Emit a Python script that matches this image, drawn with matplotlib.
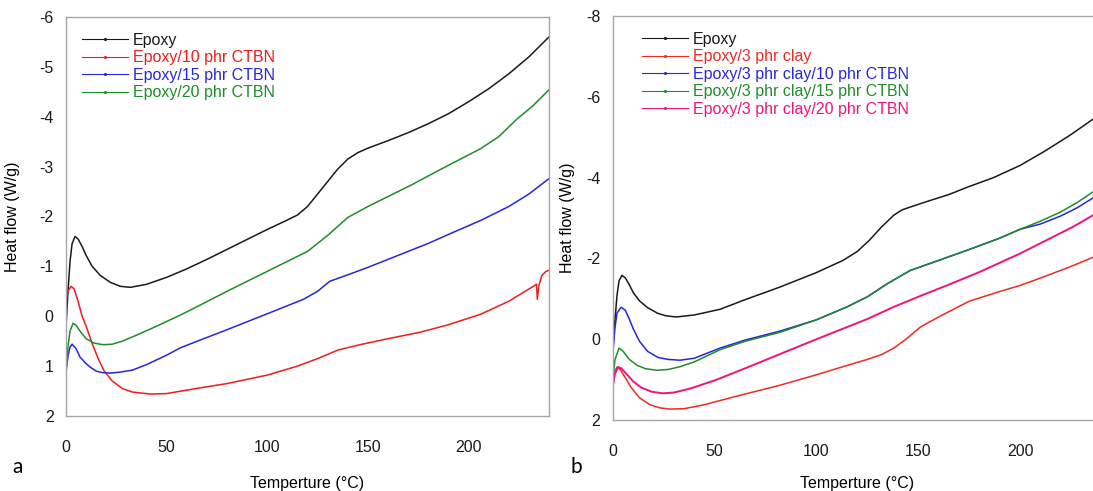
import matplotlib
matplotlib.use("Agg")
import matplotlib.pyplot as plt
from matplotlib.lines import Line2D

plt.rcParams['font.family'] = ['Liberation Sans', 'DejaVu Sans']
plt.rcParams['axes.unicode_minus'] = False

# ---- panel a: epoxy / CTBN ----
xa_epoxy = [0, 1, 2, 3, 4.5, 6, 8, 10, 13, 17, 22, 27, 32, 40, 50, 60, 70, 80, 90, 100,
            110, 115, 120, 125, 130, 135, 140, 145, 150, 160, 170, 180, 190, 200, 210,
            220, 230, 240]
ya_epoxy = [0.2, -0.5, -1.1, -1.45, -1.6, -1.55, -1.4, -1.22, -1.0, -0.82, -0.68, -0.6,
            -0.58, -0.64, -0.78, -0.95, -1.14, -1.34, -1.54, -1.74, -1.93, -2.03, -2.2,
            -2.45, -2.7, -2.95, -3.15, -3.28, -3.37, -3.52, -3.68, -3.86, -4.06, -4.3,
            -4.56, -4.86, -5.2, -5.6]

xa_c10 = [0, 1, 2.5, 4, 6, 8, 10, 13, 16, 19, 23, 28, 33, 42, 50, 66, 80, 100, 115, 125,
          135, 145, 160, 176, 190, 206, 220, 233.8, 234.2, 235, 236.5, 238.5, 240]
ya_c10 = [-0.34, -0.5, -0.6, -0.55, -0.3, 0.0, 0.2, 0.55, 0.85, 1.1, 1.3, 1.45, 1.52,
          1.56, 1.55, 1.44, 1.35, 1.18, 1.0, 0.85, 0.68, 0.58, 0.45, 0.32, 0.17, -0.04,
          -0.3, -0.64, -0.34, -0.62, -0.82, -0.9, -0.92]

xa_c15 = [0, 1, 2, 3, 5, 7, 10, 12, 15, 18, 22, 27, 33, 40, 50, 57, 66.5, 80, 100, 118,
          125, 131, 140, 150, 160, 170, 180, 190, 206, 220, 230, 240]
ya_c15 = [1.1, 0.8, 0.62, 0.56, 0.65, 0.82, 0.95, 1.02, 1.1, 1.13, 1.14, 1.12, 1.08, 0.97,
          0.78, 0.63, 0.48, 0.27, -0.05, -0.34, -0.5, -0.7, -0.83, -0.98, -1.14, -1.3,
          -1.46, -1.64, -1.92, -2.2, -2.45, -2.76]

xa_c20 = [0, 1, 2, 3.5, 5, 7, 10, 14, 18.5, 23, 28, 35, 45, 56.6, 66.5, 80, 100, 120, 130,
          140, 150, 160, 172, 185, 195, 206, 215, 224, 232, 240]
ya_c20 = [1.16, 0.6, 0.3, 0.14, 0.18, 0.3, 0.45, 0.54, 0.57, 0.56, 0.5, 0.38, 0.2, -0.02,
          -0.22, -0.5, -0.9, -1.3, -1.62, -1.98, -2.2, -2.4, -2.64, -2.92, -3.13, -3.36,
          -3.6, -3.95, -4.22, -4.54]

# ---- panel b: epoxy / clay / CTBN ----
xb_epoxy = [0, 1, 2, 3, 4.4, 6, 8, 10, 13, 17, 22, 26, 31, 40, 52.6, 65, 82, 100, 113, 120,
            126, 132, 138, 142, 146, 155, 165, 174, 187, 200, 212, 224, 236]
yb_epoxy = [0.2, -0.5, -1.1, -1.45, -1.58, -1.52, -1.35, -1.15, -0.95, -0.78, -0.64, -0.58,
            -0.55, -0.6, -0.74, -0.98, -1.29, -1.65, -1.95, -2.17, -2.45, -2.78, -3.07,
            -3.2, -3.27, -3.42, -3.58, -3.76, -4.0, -4.3, -4.65, -5.03, -5.45]

xb_clay = [0, 1, 2, 3.5, 6, 9, 13, 18, 23, 28, 35, 45, 60, 82, 100, 115, 125, 132, 138, 144,
           151, 160, 175, 190, 200, 212, 224, 236]
yb_clay = [1.1, 0.78, 0.69, 0.75, 0.95, 1.2, 1.45, 1.62, 1.7, 1.73, 1.72, 1.62, 1.42, 1.14,
           0.88, 0.65, 0.5, 0.38, 0.22, 0.0, -0.3, -0.55, -0.94, -1.18, -1.33, -1.55,
           -1.78, -2.03]

xb_c10 = [0, 1, 2, 4, 6, 8, 10, 13, 17, 22, 27, 33, 40, 52.6, 65, 82, 100, 115, 125, 135,
          146, 160, 175, 190, 200, 210, 220, 228, 236]
yb_c10 = [0.3, -0.3, -0.65, -0.79, -0.72, -0.5, -0.25, 0.05, 0.3, 0.45, 0.5, 0.52, 0.47,
          0.22, 0.02, -0.2, -0.48, -0.8, -1.05, -1.38, -1.7, -1.95, -2.22, -2.5, -2.72,
          -2.85, -3.05, -3.25, -3.5]

xb_c15 = [0, 1, 3, 5, 8, 12, 16, 21.6, 27, 33, 40, 52.6, 65, 82, 100, 115, 125, 135, 146,
          160, 175, 190, 200, 210, 220, 228, 236]
yb_c15 = [0.94, 0.5, 0.22, 0.3, 0.5, 0.65, 0.73, 0.77, 0.75, 0.68, 0.56, 0.26, 0.05, -0.17,
          -0.48, -0.8, -1.05, -1.38, -1.7, -1.95, -2.22, -2.5, -2.72, -2.92, -3.15, -3.38,
          -3.65]

xb_c20 = [0, 1, 2.5, 4, 7, 10, 14, 19, 24.5, 30, 38, 50, 65, 82, 100, 115, 125, 138, 150,
          165, 180, 200, 215, 226, 236]
yb_c20 = [1.14, 0.85, 0.69, 0.72, 0.88, 1.05, 1.2, 1.3, 1.34, 1.32, 1.22, 1.02, 0.72, 0.37,
          0.0, -0.3, -0.5, -0.8, -1.05, -1.35, -1.66, -2.12, -2.5, -2.78, -3.07]

labels_a = ['Epoxy', 'Epoxy/10 phr CTBN', 'Epoxy/15 phr CTBN', 'Epoxy/20 phr CTBN']
labels_b = ['Epoxy', 'Epoxy/3 phr clay', 'Epoxy/3 phr clay/10 phr CTBN',
            'Epoxy/3 phr clay/15 phr CTBN', 'Epoxy/3 phr clay/20 phr CTBN']
colors_a = ['#1a1a1a', '#ee1c1c', '#2626dc', '#1e8c2a']
colors_b = ['#1a1a1a', '#ee2a22', '#2626dc', '#1e8c2a', '#f0147a']

W, H = 1093, 491
FS = 11.5
fig = plt.figure(figsize=(W / 100, H / 100), dpi=100)


def frac(x0, y0, x1, y1):
    # pixel box -> figure fraction
    return [x0 / W, 1 - y1 / H, (x1 - x0) / W, (y1 - y0) / H]


ax1 = fig.add_axes(frac(66, 17, 549, 416))
ax2 = fig.add_axes(frac(613, 16, 613 + 240 * 2.035, 420))

series_a = [(xa_epoxy, ya_epoxy), (xa_c10, ya_c10), (xa_c15, ya_c15), (xa_c20, ya_c20)]
series_b = [(xb_epoxy, yb_epoxy), (xb_clay, yb_clay), (xb_c10, yb_c10),
            (xb_c15, yb_c15), (xb_c20, yb_c20)]

for (x, y), c in zip(series_a, colors_a):
    ax1.plot(x, y, color=c, lw=1.1)
for (x, y), c in zip(series_b, colors_b):
    ax2.plot(x, y, color=c, lw=1.4 if c == '#f0147a' else 1.1)

ax1.set_xlim(0, 240)
ax1.set_ylim(2, -6)
ax1.set_yticks(range(-6, 3))
ax2.set_xlim(0, 240)
ax2.set_ylim(2, -8)
ax2.set_yticks(range(-8, 3, 2))

for ax in (ax1, ax2):
    ax.set_xticks([0, 50, 100, 150, 200])
    for s in ax.spines.values():
        s.set_color('#a6a6a6')
        s.set_linewidth(1.0)
    ax.tick_params(axis='both', length=0, labelsize=FS, colors='#1a1a1a')
    ax.tick_params(axis='y', pad=9)
    ax.tick_params(axis='x', pad=17)
    ax.set_xlabel('Temperture (°C)', fontsize=FS)
    ax.set_ylabel('Heat flow (W/g)', fontsize=FS)

ax1.xaxis.set_label_coords(0.5, (416 - 476) / 399)
ax1.yaxis.set_label_coords((20 - 66) / 483, 0.5)
ax2.xaxis.set_label_coords((857 - 613) / 488.4, (420 - 476) / 404)
ax2.yaxis.set_label_coords((575 - 613) / 488.4, 0.5)

fig.text(12 / W, 1 - 467 / H, 'a', fontsize=15, family=['Lato', 'DejaVu Sans'], va='center')
fig.text(570 / W, 1 - 467 / H, 'b', fontsize=15, family=['Lato', 'DejaVu Sans'], va='center')


def add_legend(ax, labels, colors, bx, by):
    handles = [Line2D([0], [0], color=c, lw=0.8, marker='.', markersize=2.5)
               for c in colors]
    ax.legend(handles, labels, loc='upper left', bbox_to_anchor=(bx, by),
              frameon=False, fontsize=FS, handlelength=2.9, handletextpad=0.3,
              labelspacing=0.15, borderpad=0, borderaxespad=0, numpoints=1,
              labelcolor='linecolor')


add_legend(ax1, labels_a, colors_a, (82 - 66) / 483, (416 - 33) / 399)
add_legend(ax2, labels_b, colors_b, (642 - 613) / 488.4, (420 - 32) / 404)

fig.savefig('out.png', dpi=100)
